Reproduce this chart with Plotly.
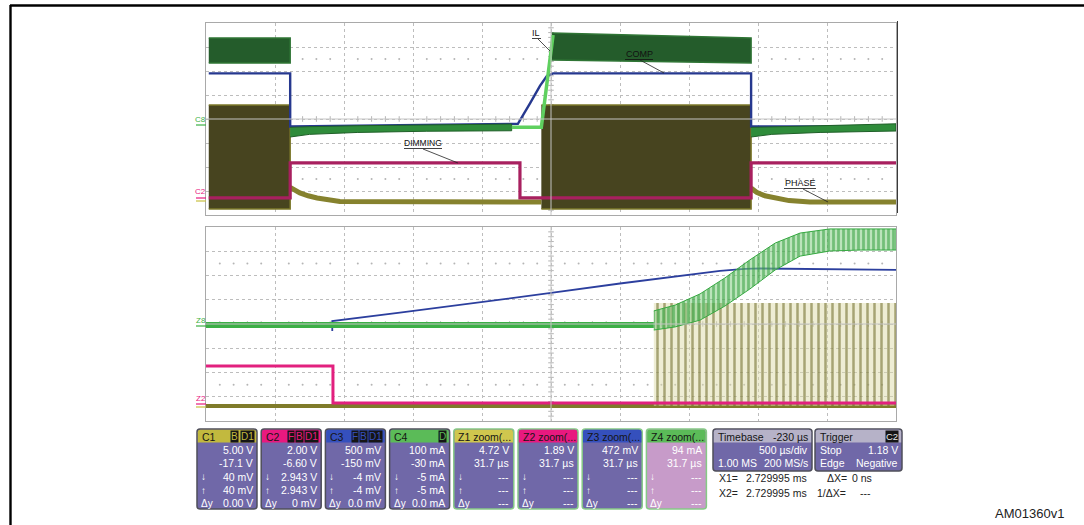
import plotly.graph_objects as go

W, H = 1084, 525
FONT = "Liberation Sans, Arial, sans-serif"

# ---------------- top record (500 µs/div), values in screen divisions ----------------
phase_on = [0.04, 4.86]           # PHASE switching windows
phase_off = [1.22, 7.90]
il_on = [0.04, 5.01]              # IL burst windows
il_off = [1.22, 7.90]
phase_burst_top = 4.58
phase_burst_bottom = 0.25
il_burst_top_start = [7.375, 7.58]
il_burst_top_end = [7.375, 7.375]
il_burst_bot_start = [6.33, 6.46]
il_burst_bot_end = [6.33, 6.33]

phase_tail1_t = [1.22, 1.29, 1.36, 1.48, 1.61, 1.94, 4.86]
phase_tail1_v = [1.15, 1.02, 0.92, 0.80, 0.71, 0.56, 0.54]
phase_tail2_t = [7.90, 7.98, 8.10, 8.25, 8.45, 8.75, 10.0]
phase_tail2_v = [1.12, 0.95, 0.80, 0.70, 0.60, 0.54, 0.54]

il_idle1_t = [1.22, 1.5, 2.2, 3.2, 4.43]
il_idle1_hi = [3.65, 3.68, 3.72, 3.76, 3.79]
il_idle1_lo = [3.25, 3.36, 3.44, 3.49, 3.51]
il_idle2_t = [7.90, 8.2, 8.9, 10.0]
il_idle2_hi = [3.65, 3.68, 3.72, 3.80]
il_idle2_lo = [3.25, 3.36, 3.44, 3.50]
il_rise_t = [4.43, 4.86, 5.03]
il_rise_v = [3.66, 3.66, 7.50]

comp_t = [0.04, 1.22, 1.22, 4.52, 4.70, 4.84, 4.94, 5.03, 7.90, 7.90, 10.0]
comp_v = [5.90, 5.90, 3.69, 3.80, 4.67, 5.38, 5.79, 5.90, 5.90, 3.69, 3.69]

dim_t = [0.04, 1.22, 1.22, 4.55, 4.55, 7.90, 7.90, 10.0]
dim_v = [0.71, 0.71, 2.17, 2.17, 0.71, 0.71, 2.17, 2.17]

trig_t_top = 4.55
trig_level = 1.25

# ---------------- zoomed record (31.7 µs/div) ----------------
zil_flat_t = [0.0, 6.49]
zil_flat_v = [3.96, 3.96]
zil_osc_t = [6.49, 6.80, 7.16, 7.52, 7.88, 8.25, 8.61, 9.04, 9.48, 10.0]
zil_osc_hi = [4.54, 4.78, 5.24, 5.90, 6.64, 7.34, 7.75, 7.92, 7.92, 7.92]
zil_osc_lo = [3.75, 3.88, 4.16, 4.74, 5.44, 6.23, 6.80, 7.01, 7.05, 7.05]
zcomp_t = [1.83, 1.83, 2.81, 3.97, 5.0, 6.0, 6.87, 7.45, 7.81, 8.03, 10.0]
zcomp_v = [3.71, 4.12, 4.47, 4.89, 5.28, 5.67, 5.98, 6.19, 6.27, 6.29, 6.23]
zdim_t = [0.0, 1.84, 1.84, 10.0]
zdim_v = [2.27, 2.27, 0.74, 0.74]
zphase_rest = 0.62
zphase_sw_t = [6.49, 10.0]
zphase_sw_hi = 4.87
trig_t_zoom = 1.83

# ---------------- channel descriptor boxes ----------------
box_names = ["C1", "C2", "C3", "C4", "Z1 zoom(...", "Z2 zoom(...", "Z3 zoom(...", "Z4 zoom(..."]
box_heads = ["#c2b93e", "#e8197f", "#3550bd", "#5bbb58", "#cfc74e", "#e8197f", "#3550bd", "#5bbb58"]
box_rows = [
    ["5.00 V", "-17.1 V", "40 mV", "40 mV", "0.00 V"],
    ["2.00 V", "-6.60 V", "2.943 V", "2.943 V", "0 mV"],
    ["500 mV", "-150 mV", "-4 mV", "-4 mV", "0.0 mV"],
    ["100 mA", "-30 mA", "-5 mA", "-5 mA", "0.0 mA"],
    ["4.72 V", "31.7 µs", "---", "---", "---"],
    ["1.89 V", "31.7 µs", "---", "---", "---"],
    ["472 mV", "31.7 µs", "---", "---", "---"],
    ["94 mA", "31.7 µs", "---", "---", "---"],
]
box_badges = [["B", "D1"], ["F", "B", "D1"], ["F", "B", "D1"], ["D"], [], [], [], []]
row_marks = ["", "", "↓", "↑", "Δy"]

fig = go.Figure()


def px(x):
    return x / W


def py(y):
    return 1 - y / H


def add_line(t, v, color, width, xa="x", ya="y", shape="linear"):
    fig.add_trace(go.Scatter(x=t, y=v, mode="lines", line=dict(color=color, width=width, shape=shape),
                             xaxis=xa, yaxis=ya, hoverinfo="skip", showlegend=False))


def add_band(t, hi, lo, fill, edge, width=1, xa="x", ya="y", pattern=None):
    kw = {}
    if pattern:
        kw["fillpattern"] = pattern
    fig.add_trace(go.Scatter(x=list(t) + list(t)[::-1], y=list(hi) + list(lo)[::-1], mode="lines",
                             fill="toself", fillcolor=fill, line=dict(color=edge, width=width),
                             xaxis=xa, yaxis=ya, hoverinfo="skip", showlegend=False, **kw))


# ---- graticule decoration: minor ticks ----
minor_x = [k / 5 for k in range(51) if k % 5]
minor_y = [k / 5 for k in range(41) if k % 5]
for xa, ya in (("x", "y"), ("x2", "y2")):
    for row in (1.5, 6.5):
        fig.add_trace(go.Scatter(x=minor_x, y=[row] * len(minor_x), mode="markers",
                                 marker=dict(size=2, color="#b5b5b5"), xaxis=xa, yaxis=ya,
                                 hoverinfo="skip", showlegend=False))
    fig.add_trace(go.Scatter(x=minor_x, y=[4] * len(minor_x), mode="markers",
                             marker=dict(symbol="line-ns", size=4, line=dict(width=1, color="#b5b5b5")),
                             xaxis=xa, yaxis=ya, hoverinfo="skip", showlegend=False))
    fig.add_trace(go.Scatter(x=[5] * len(minor_y), y=minor_y, mode="markers",
                             marker=dict(symbol="line-ew", size=4, line=dict(width=1, color="#b5b5b5")),
                             xaxis=xa, yaxis=ya, hoverinfo="skip", showlegend=False))

# ---------------- top record ----------------
OLIVE_FILL, OLIVE_EDGE, OLIVE_LINE = "#47441f", "#7c782a", "#86822e"
GREEN_FILL, GREEN_EDGE = "#245c2b", "#2f7535"

for t0, t1 in zip(phase_on, phase_off):
    add_band([t0, t1], [phase_burst_top] * 2, [phase_burst_bottom] * 2, OLIVE_FILL, OLIVE_EDGE, 1.5)
add_line(phase_tail1_t, phase_tail1_v, OLIVE_LINE, 5)
add_line(phase_tail2_t, phase_tail2_v, OLIVE_LINE, 5)

add_line(comp_t, comp_v, "#26388f", 2.4)

for i in range(2):
    add_band([il_on[i], il_off[i]], [il_burst_top_start[i], il_burst_top_end[i]],
             [il_burst_bot_start[i], il_burst_bot_end[i]], GREEN_FILL, GREEN_EDGE, 1.5)
add_band(il_idle1_t, il_idle1_hi, il_idle1_lo, "#2f8c3b", "#1f5f28", 1)
add_band(il_idle2_t, il_idle2_hi, il_idle2_lo, "#2f8c3b", "#1f5f28", 1)
add_line(il_rise_t, il_rise_v, "#5fd05f", 3.5)

add_line(dim_t, dim_v, "#a8205f", 3.2)

# trace end arrows
fig.add_trace(go.Scatter(x=[10.06, 10.06, 10.06], y=[il_idle2_hi[-1] - 0.15, dim_v[-1], phase_tail2_v[-1]],
                         mode="markers", marker=dict(symbol="triangle-right", size=7,
                                                     color=["#2f8c3b", "#a8205f", OLIVE_LINE]),
                         cliponaxis=False, xaxis="x", yaxis="y", hoverinfo="skip", showlegend=False))
# trigger markers
fig.add_trace(go.Scatter(x=[trig_t_top], y=[-0.13], mode="markers",
                         marker=dict(symbol="triangle-up", size=7, color="#e8197f"),
                         cliponaxis=False, xaxis="x", yaxis="y", hoverinfo="skip", showlegend=False))
fig.add_trace(go.Scatter(x=[10.1], y=[trig_level], mode="markers",
                         marker=dict(symbol="triangle-left", size=8, color="#e8197f"),
                         cliponaxis=False, xaxis="x", yaxis="y", hoverinfo="skip", showlegend=False))

# ---------------- zoomed record ----------------
add_line([0, 10], [zphase_rest, zphase_rest], "#7f7b2a", 4, "x2", "y2")
add_band(zphase_sw_t, [zphase_sw_hi] * 2, [zphase_rest] * 2, "rgba(215,212,160,0.45)", "rgba(0,0,0,0)", 0,
         "x2", "y2", pattern=dict(shape="|", size=7, solidity=0.36, fgcolor="#5f5b15",
                                  bgcolor="rgba(222,219,170,0.5)"))
add_line(zcomp_t, zcomp_v, "#2c3f9e", 1.8, "x2", "y2")
add_line(zil_flat_t, zil_flat_v, "#3caf46", 6, "x2", "y2")
add_band(zil_osc_t, zil_osc_hi, zil_osc_lo, "rgba(90,190,90,0.6)", "#35a840", 1, "x2", "y2",
         pattern=dict(shape="|", size=5, solidity=0.55, fgcolor="#2a9c36",
                      bgcolor="rgba(130,205,130,0.55)"))
add_line(zdim_t, zdim_v, "#e2207e", 3, "x2", "y2")
fig.add_trace(go.Scatter(x=[trig_t_zoom], y=[-0.14], mode="markers",
                         marker=dict(symbol="triangle-up", size=7, color="#3caf46"),
                         cliponaxis=False, xaxis="x2", yaxis="y2", hoverinfo="skip", showlegend=False))

# ---------------- axes ----------------
axis_x = dict(range=[0, 10], showgrid=True, gridcolor="#bdbdbd", griddash="dot", gridwidth=1,
              dtick=1, tick0=0, showticklabels=False, ticks="", zeroline=False, showline=True,
              linecolor="#a9a9a9", linewidth=1, mirror=True, fixedrange=True,
              domain=[px(206), px(896)])
axis_y = dict(range=[0, 8], showgrid=True, gridcolor="#bdbdbd", griddash="dot", gridwidth=1,
              dtick=1, tick0=0, showticklabels=False, ticks="", zeroline=False, showline=True,
              linecolor="#a9a9a9", linewidth=1, mirror=True, fixedrange=True)

shapes = []
annotations = []


def seg(x0, y0, x1, y1, color="#222", width=1):
    shapes.append(dict(type="line", xref="paper", yref="paper", x0=px(x0), y0=py(y0), x1=px(x1), y1=py(y1),
                       line=dict(color=color, width=width)))


def text(x, y, s, size=10, color="#ffffff", anchor="left", bg=None):
    a = dict(x=px(x), y=py(y), xref="paper", yref="paper", text=s, showarrow=False, xanchor=anchor,
             yanchor="middle", font=dict(family=FONT, size=size, color=color))
    if bg:
        a.update(bgcolor=bg, borderpad=0)
    annotations.append(a)


def rpath(x0, y0, x1, y1, r, top_only=False):
    p = lambda x, y: f"{px(x):.5f},{py(y):.5f}"
    s = f"M{p(x0 + r, y0)} L{p(x1 - r, y0)} Q{p(x1, y0)} {p(x1, y0 + r)} "
    if top_only:
        s += f"L{p(x1, y1)} L{p(x0, y1)} "
    else:
        s += f"L{p(x1, y1 - r)} Q{p(x1, y1)} {p(x1 - r, y1)} L{p(x0 + r, y1)} Q{p(x0, y1)} {p(x0, y1 - r)} "
    s += f"L{p(x0, y0 + r)} Q{p(x0, y0)} {p(x0 + r, y0)} Z"
    return s


# center lines of graticule
for (ya, yb) in ((23, 215), (227, 421)):
    seg(551, ya, 551, yb, "#c4c4c4", 1)
    seg(206, (ya + yb) / 2, 896, (ya + yb) / 2, "#c4c4c4", 1)
seg(897.5, 21, 897.5, 213, "#3a3a3a", 1)

# outer frame
seg(10, 5.5, 1084, 5.5, "#000", 2.4)
seg(10.5, 5, 10.5, 525, "#000", 2.4)

# channel reference labels
text(201, 119, "C8", 8, "#3cb043", "center")
seg(196, 125, 206, 125, "#3cb043", 1.2)
text(201, 192, "C2", 8, "#e8197f", "center")
seg(196, 198, 206, 198, "#e8197f", 1.2)
seg(196, 201, 206, 201, "#c8c040", 1.2)
text(201, 320, "Z8", 8, "#3cb043", "center")
seg(196, 326, 206, 326, "#3cb043", 1.2)
text(201, 398, "Z2", 8, "#e8197f", "center")
seg(196, 404, 206, 404, "#e8197f", 1.2)
seg(196, 407, 206, 407, "#c8c040", 1.2)

# signal call-outs
text(536, 33, "IL", 9, "#111", "center")
seg(532, 38.5, 541, 38.5, "#111", 0.8)
seg(538, 39, 550, 51, "#222", 0.8)
text(639, 54, "COMP", 9, "#111", "center")
seg(625, 59.5, 653, 59.5, "#111", 0.8)
seg(640, 60, 664, 73, "#222", 0.8)
text(423, 143, "DIMMING", 8.5, "#111", "center")
seg(404, 148.5, 442, 148.5, "#111", 0.8)
seg(423, 149, 458, 163, "#222", 0.8)
text(800, 183, "PHASE", 9, "#111", "center")
seg(784, 188.5, 816, 188.5, "#111", 0.8)
seg(803, 189, 828, 202, "#222", 0.8)

# descriptor boxes
BODY = "#7068a8"
row_y = [450, 463.3, 476.6, 490, 503]
for i, name in enumerate(box_names):
    x0 = 197 + i * 64.2
    x1 = x0 + 60
    zoom = name.startswith("Z")
    border = "#86c986" if zoom else "#4f4f5a"
    body = "#c79bc9" if i == 7 else BODY
    shapes.append(dict(type="path", xref="paper", yref="paper", path=rpath(x0, 429, x1, 509, 3),
                       fillcolor=body, line=dict(color=border, width=1.5)))
    shapes.append(dict(type="path", xref="paper", yref="paper", path=rpath(x0 + 0.8, 429.8, x1 - 0.8, 442.5, 2.5, True),
                       fillcolor=box_heads[i], line=dict(width=0)))
    text(x0 + 2.5, 436.5, name, 10.5, "#151515")
    bx = x1 - 2.5
    for b in reversed(box_badges[i]):
        text(bx, 436.5, b, 10, box_heads[i], "right", bg="#151515")
        bx -= 6.8 * len(b) + 1.5
    for r, val in enumerate(box_rows[i]):
        text(x1 - 2.5, row_y[r], val, 10.5, "#ffffff", "right")
        if row_marks[r]:
            text(x0 + 2, row_y[r], row_marks[r], 10, "#ffffff")

# timebase / trigger
for (x0, x1) in ((713, 812), (815, 902)):
    shapes.append(dict(type="path", xref="paper", yref="paper", path=rpath(x0, 429, x1, 471, 3),
                       fillcolor=BODY, line=dict(color="#4f4f5a", width=1.5)))
    shapes.append(dict(type="path", xref="paper", yref="paper", path=rpath(x0 + 0.8, 429.8, x1 - 0.8, 442.5, 2.5, True),
                       fillcolor="#b6b2c8", line=dict(width=0)))
text(716, 436.5, "Timebase", 10.5, "#151515")
text(810, 436.5, "-230 µs", 10.5, "#151515", "right")
text(810, 450, "500 µs/div", 10.5, "#ffffff", "right")
text(716, 463.3, "1.00 MS", 10.5, "#ffffff")
text(810, 463.3, "200 MS/s", 10.5, "#ffffff", "right")
text(818, 436.5, "Trigger", 10.5, "#151515")
text(899, 436.5, "C2", 9.5, "#e8e8e8", "right", bg="#151515")
text(818, 450, "Stop", 10.5, "#ffffff")
text(900, 450, "1.18 V", 10.5, "#ffffff", "right")
text(818, 463.3, "Edge", 10.5, "#ffffff")
text(900, 463.3, "Negative", 10.5, "#ffffff", "right")

text(717, 478, "X1=", 10.5, "#222")
text(744, 478, "2.729995 ms", 10.5, "#222")
text(825, 478, "ΔX=", 10.5, "#222")
text(850, 478, "0 ns", 10.5, "#222")
text(717, 493, "X2=", 10.5, "#222")
text(744, 493, "2.729995 ms", 10.5, "#222")
text(815, 493, "1/ΔX=", 10.5, "#222")
text(858, 493, "---", 10.5, "#222")

text(1029, 513, "AM01360v1", 13, "#222", "center")

fig.update_layout(
    width=W, height=H, margin=dict(l=0, r=0, t=0, b=0),
    paper_bgcolor="#ffffff", plot_bgcolor="#ffffff",
    xaxis=dict(axis_x, anchor="y"),
    yaxis=dict(axis_y, anchor="x", domain=[py(215), py(23)]),
    xaxis2=dict(axis_x, anchor="y2"),
    yaxis2=dict(axis_y, anchor="x2", domain=[py(421), py(227)]),
    shapes=shapes, annotations=annotations, showlegend=False,
)

fig.write_html("out.html")
